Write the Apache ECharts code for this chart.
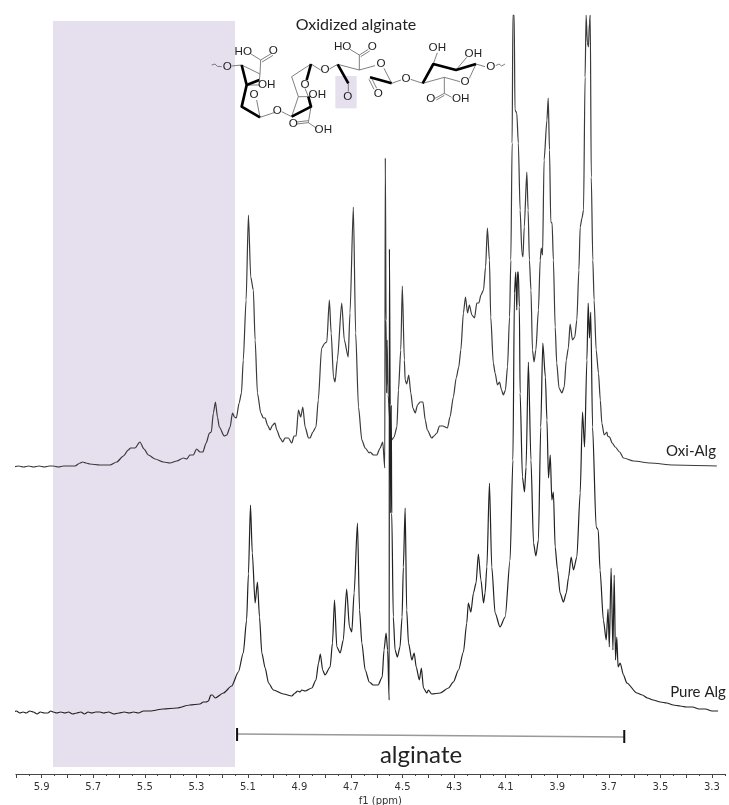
<!DOCTYPE html>
<html><head><meta charset="utf-8">
<style>html,body{margin:0;padding:0;background:#fff}#c{width:729px;height:805px}</style>
<script src="https://cdn.jsdelivr.net/npm/echarts@6/dist/echarts.min.js"></script>
</head><body><div id="c"></div>
<script>
const oxiPpm=[6.010,5.990,5.970,5.950,5.932,5.910,5.890,5.870,5.855,5.835,5.815,5.795,5.771,5.751,5.741,5.728,5.713,5.674,5.635,5.609,5.583,5.564,5.555,5.538,5.519,5.503,5.486,5.460,5.428,5.402,5.376,5.350,5.337,5.325,5.312,5.299,5.286,5.275,5.262,5.249,5.242,5.234,5.226,5.218,5.211,5.192,5.182,5.169,5.160,5.152,5.145,5.134,5.125,5.118,5.107,5.098,5.089,5.079,5.072,5.063,5.050,5.040,5.033,5.024,5.014,5.004,4.995,4.988,4.975,4.965,4.956,4.943,4.930,4.921,4.913,4.904,4.895,4.887,4.878,4.865,4.859,4.848,4.836,4.827,4.814,4.801,4.794,4.784,4.777,4.768,4.762,4.753,4.736,4.726,4.711,4.704,4.691,4.682,4.671,4.658,4.645,4.629,4.626,4.613,4.600,4.587,4.577,4.569,4.567,4.564,4.562,4.560,4.556,4.548,4.542,4.533,4.522,4.516,4.507,4.501,4.493,4.490,4.484,4.476,4.468,4.460,4.451,4.442,4.432,4.421,4.412,4.404,4.387,4.378,4.367,4.357,4.344,4.326,4.316,4.303,4.292,4.282,4.274,4.264,4.256,4.248,4.241,4.231,4.221,4.212,4.204,4.196,4.186,4.178,4.171,4.163,4.158,4.148,4.141,4.132,4.124,4.116,4.109,4.101,4.093,4.085,4.080,4.075,4.072,4.067,4.064,4.057,4.051,4.044,4.037,4.033,4.028,4.018,4.013,4.008,4.002,3.996,3.990,3.983,3.973,3.966,3.962,3.957,3.951,3.940,3.935,3.930,3.925,3.920,3.915,3.908,3.902,3.893,3.882,3.873,3.865,3.857,3.850,3.841,3.832,3.824,3.816,3.811,3.804,3.798,3.792,3.788,3.783,3.779,3.775,3.772,3.768,3.762,3.757,3.749,3.740,3.733,3.727,3.718,3.707,3.705,3.697,3.687,3.675,3.658,3.643,3.604,3.539,3.450,3.281];
const oxiInt=[308,309,308,309,308,309,308,309,309,308,309,309,309,312,313,312,311,310,310,313,319,325,327,327,333,326,320,316,313,312,314,317,316,320,320,326,323,323,332,342,343,362,373,358,348,339,340,348,362,358,357,372,382,415,475,560,498,485,435,382,362,357,357,350,345,350,352,345,337,333,337,337,332,339,339,365,358,368,348,337,337,343,348,375,427,432,433,475,442,398,393,415,472,435,418,462,568,442,368,335,327,322,323,320,320,327,333,307,617,455,382,435,380,350,335,338,348,385,425,489,415,395,391,400,382,367,362,370,373,373,355,345,337,339,342,349,349,347,358,378,397,408,425,462,478,462,470,460,457,472,472,480,485,508,547,515,458,412,402,390,393,385,380,385,408,458,515,632,760,760,665,662,632,565,522,518,548,603,565,515,485,425,413,425,465,515,527,520,615,655,677,625,553,552,515,448,412,387,382,388,415,427,451,435,438,455,505,548,557,565,698,760,732,728,752,760,598,515,475,425,402,375,352,340,343,339,338,332,328,323,317,314,312,310,309];
const pureAlgPpm=[6.010,5.998,5.985,5.972,5.960,5.946,5.932,5.918,5.905,5.890,5.876,5.865,5.855,5.842,5.826,5.810,5.796,5.780,5.764,5.748,5.734,5.720,5.706,5.690,5.674,5.660,5.640,5.620,5.600,5.580,5.560,5.544,5.525,5.505,5.480,5.428,5.376,5.325,5.286,5.273,5.262,5.253,5.244,5.238,5.227,5.195,5.163,5.137,5.118,5.105,5.098,5.090,5.083,5.072,5.063,5.055,5.046,5.033,5.020,5.001,4.962,4.930,4.917,4.907,4.898,4.891,4.878,4.852,4.836,4.826,4.819,4.810,4.801,4.781,4.772,4.764,4.755,4.742,4.730,4.717,4.706,4.697,4.688,4.675,4.667,4.658,4.645,4.629,4.614,4.595,4.579,4.572,4.564,4.558,4.552,4.551,4.548,4.546,4.544,4.542,4.536,4.529,4.520,4.510,4.502,4.497,4.490,4.484,4.477,4.464,4.455,4.447,4.435,4.427,4.419,4.406,4.400,4.387,4.354,4.322,4.303,4.283,4.264,4.251,4.245,4.235,4.225,4.215,4.206,4.196,4.186,4.180,4.173,4.163,4.154,4.141,4.122,4.102,4.083,4.072,4.066,4.061,4.057,4.054,4.051,4.047,4.044,4.035,4.027,4.021,4.012,4.002,3.992,3.983,3.973,3.964,3.956,3.946,3.940,3.934,3.927,3.921,3.915,3.908,3.899,3.889,3.876,3.865,3.856,3.846,3.837,3.824,3.811,3.802,3.794,3.785,3.780,3.775,3.770,3.763,3.749,3.741,3.734,3.721,3.710,3.703,3.698,3.691,3.684,3.679,3.674,3.669,3.664,3.656,3.643,3.630,3.591,3.570,3.550,3.528,3.500,3.475,3.450,3.423,3.400,3.375,3.350,3.325,3.300,3.276];
const pureAlgInt=[63,64,62,63,62,64,63,61,63,62,62,64,63,62,63,62,63,61,62,63,61,63,62,63,63,62,63,61,62,63,62,63,62,64,64,66,67,70,71,73,73,74,80,80,77,82,89,103,122,155,201,270,222,172,193,158,122,107,92,85,81,79,82,84,83,85,84,87,95,112,121,105,100,108,132,175,128,122,135,186,148,143,182,252,165,132,105,93,90,90,98,125,142,125,75,526,370,262,370,262,158,125,118,128,158,208,267,165,132,115,122,108,95,107,87,82,85,81,82,87,93,105,123,152,172,163,182,192,221,195,172,182,208,292,208,162,148,158,215,315,482,503,465,503,503,468,382,298,283,308,413,315,232,219,235,348,432,398,355,297,320,275,283,228,205,182,173,182,198,218,205,218,282,363,328,415,472,437,463,348,248,245,205,155,135,166,128,207,125,200,115,138,108,112,100,92,82,80,77,75,73,72,70,69,68,68,66,66,64,64];
const bracketPpm=[5.142,3.640];
const bracketInt=[41,38];
const bracketTickPpm=[5.142,5.142,null,3.640,3.640];
const bracketTickInt=[47,34,null,45,32];
const shadePpm=[5.856,5.150];
const shadeInt=[8,754];
const tickLabels=[5.9,5.7,5.5,5.3,5.1,4.9,4.7,4.5,4.3,4.1,3.9,3.7,3.5,3.3];
const majorTicks=[6.0,5.9,5.8,5.7,5.6,5.5,5.4,5.3,5.2,5.1,5.0,4.9,4.8,4.7,4.6,4.5,4.4,4.3,4.2,4.1,4.0,3.9,3.8,3.7,3.6,3.5,3.4,3.3];
const zip=(a,b)=>a.map((v,i)=>[v,b[i]]);

const thin=[[[35,195],[45,192],[52,199],[65,200]],[[95,198],[125,195]],[[125,195],[180,222],[178,240]],[[180,222],[182,180],[150,160]],[[182,180],[215,160]],[[186,186],[219,166]],[[145,255],[178,255]],[[180,352],[170,300]],[[180,352],[222,338]],[[245,335],[275,350]],[[275,350],[295,290],[330,290]],[[295,290],[275,230],[333,192]],[[315,265],[325,290]],[[333,320],[325,368],[290,372]],[[325,362],[290,366]],[[325,368],[350,385]],[[333,192],[362,210]],[[388,207],[413,193]],[[413,193],[478,210],[478,165],[450,148]],[[478,165],[505,148]],[[482,170],[509,153]],[[478,210],[525,197]],[[552,205],[575,250]],[[515,235],[530,265]],[[507,238],[522,268]],[[575,250],[603,240]],[[632,238],[668,250]],[[668,250],[733,232],[780,245]],[[808,235],[828,192]],[[700,192],[712,158]],[[768,210],[800,172]],[[733,232],[733,280],[705,295]],[[733,286],[709,300]],[[733,280],[755,292]],[[828,192],[855,200]],[[887,197],[897,192],[905,198],[915,192]],[[445,250],[445,275]]];
const bold=[[[125,195],[140,255],[125,320],[180,352]],[[140,255],[178,240]],[[275,350],[333,320],[325,290]],[[333,192],[320,240]],[[413,193],[445,250]],[[510,232],[575,250]],[[668,250],[700,192],[768,210],[828,192]]];
const atoms=[['O',82,200],['HO',130,155],['O',220,153],['OH',200,253],['O',162,285],['O',232,333],['O',315,253],['OH',352,285],['O',280,372],['OH',370,390],['O',375,210],['O',443,290],['HO',428,140],['O',517,140],['O',543,190],['O',535,280],['O',618,235],['O',795,245],['OH',712,143],['OH',820,160],['O',692,295],['OH',782,295],['O',872,200]];
const molecule=[{type:'rect',z:20,shape:{x:406,y:228,width:64,height:97},style:{fill:'#E6DFEE'}}]
 .concat(thin.map(p=>({type:'polyline',z:21,shape:{points:p},style:{stroke:'#666',lineWidth:2.5,fill:null}})))
 .concat(bold.map(p=>({type:'polyline',z:22,shape:{points:p},style:{stroke:'#000',lineWidth:8,fill:null,lineJoin:'round'}})))
 .concat(atoms.map(a=>({type:'text',z:23,x:a[1],y:a[2],style:{text:a[0],fill:'#222',font:'35px "Liberation Sans"',align:'center',verticalAlign:'middle'}})));

const label=(t,x,y,size,color)=>({type:'text',x,y,z:20,style:{text:t,fill:color||'#222',font:size+'px Lato',align:'center',verticalAlign:'middle'}});

const chart=echarts.init(document.getElementById('c'),null,{renderer:'canvas'});
const lineBase={type:'line',showSymbol:false,symbol:'none',animation:false,silent:true,connectNulls:false};
const spectrum=Object.assign({},lineBase,{smooth:0.25,smoothMonotone:'x'});
chart.setOption({
 animation:false,
 backgroundColor:'#fff',
 grid:{left:15.9,right:4.2,top:15,bottom:31,containLabel:false,outerBoundsMode:'none'},
 xAxis:[{type:'value',inverse:true,min:3.25,max:6.0,interval:0.05,position:'bottom',
   name:'f1 (ppm)',nameLocation:'middle',nameGap:21,nameTextStyle:{fontFamily:'DejaVu Sans',fontSize:10,color:'#333',padding:[0,0,0,20]},
   axisLine:{show:true,lineStyle:{color:'#444',width:1}},
   axisTick:{show:true,length:2,lineStyle:{color:'#444'}},
   axisLabel:{show:true,customValues:tickLabels,formatter:v=>v.toFixed(1),fontFamily:'DejaVu Sans',fontSize:10,color:'#333',margin:8,hideOverlap:false},
   splitLine:{show:false}},
  {type:'value',inverse:true,min:3.25,max:6.0,position:'bottom',
   axisLine:{show:false},axisLabel:{show:false},
   axisTick:{show:true,length:4,customValues:majorTicks,lineStyle:{color:'#444'}},
   splitLine:{show:false}}],
 yAxis:{type:'value',min:1,max:760,show:false,splitLine:{show:false}},
 series:[
  Object.assign({},spectrum,{name:'Oxi-Alg',data:zip(oxiPpm,oxiInt),z:5,lineStyle:{color:'#3a3a3a',width:1.2},
    markArea:{silent:true,itemStyle:{color:'#E6DFEE'},data:[[{coord:[shadePpm[0],shadeInt[0]]},{coord:[shadePpm[1],shadeInt[1]]}]]}}),
  Object.assign({},spectrum,{name:'Pure Alg',data:zip(pureAlgPpm,pureAlgInt),z:6,lineStyle:{color:'#222',width:1.2}}),
  Object.assign({},lineBase,{name:'alginate range',data:zip(bracketPpm,bracketInt),z:7,lineStyle:{color:'#999',width:1.5}}),
  Object.assign({},lineBase,{name:'alginate ends',data:zip(bracketTickPpm,bracketTickInt),z:8,lineStyle:{color:'#111',width:2}})
 ],
 graphic:[
  {type:'group',x:200,y:0,scaleX:1/3,scaleY:1/3,silent:true,children:molecule},
  label('Oxidized alginate',356,25,16),
  label('Oxi-Alg',691,451,15),
  label('Pure Alg',698,692,15),
  label('alginate',421,755,24)
 ]
});
</script></body></html>
